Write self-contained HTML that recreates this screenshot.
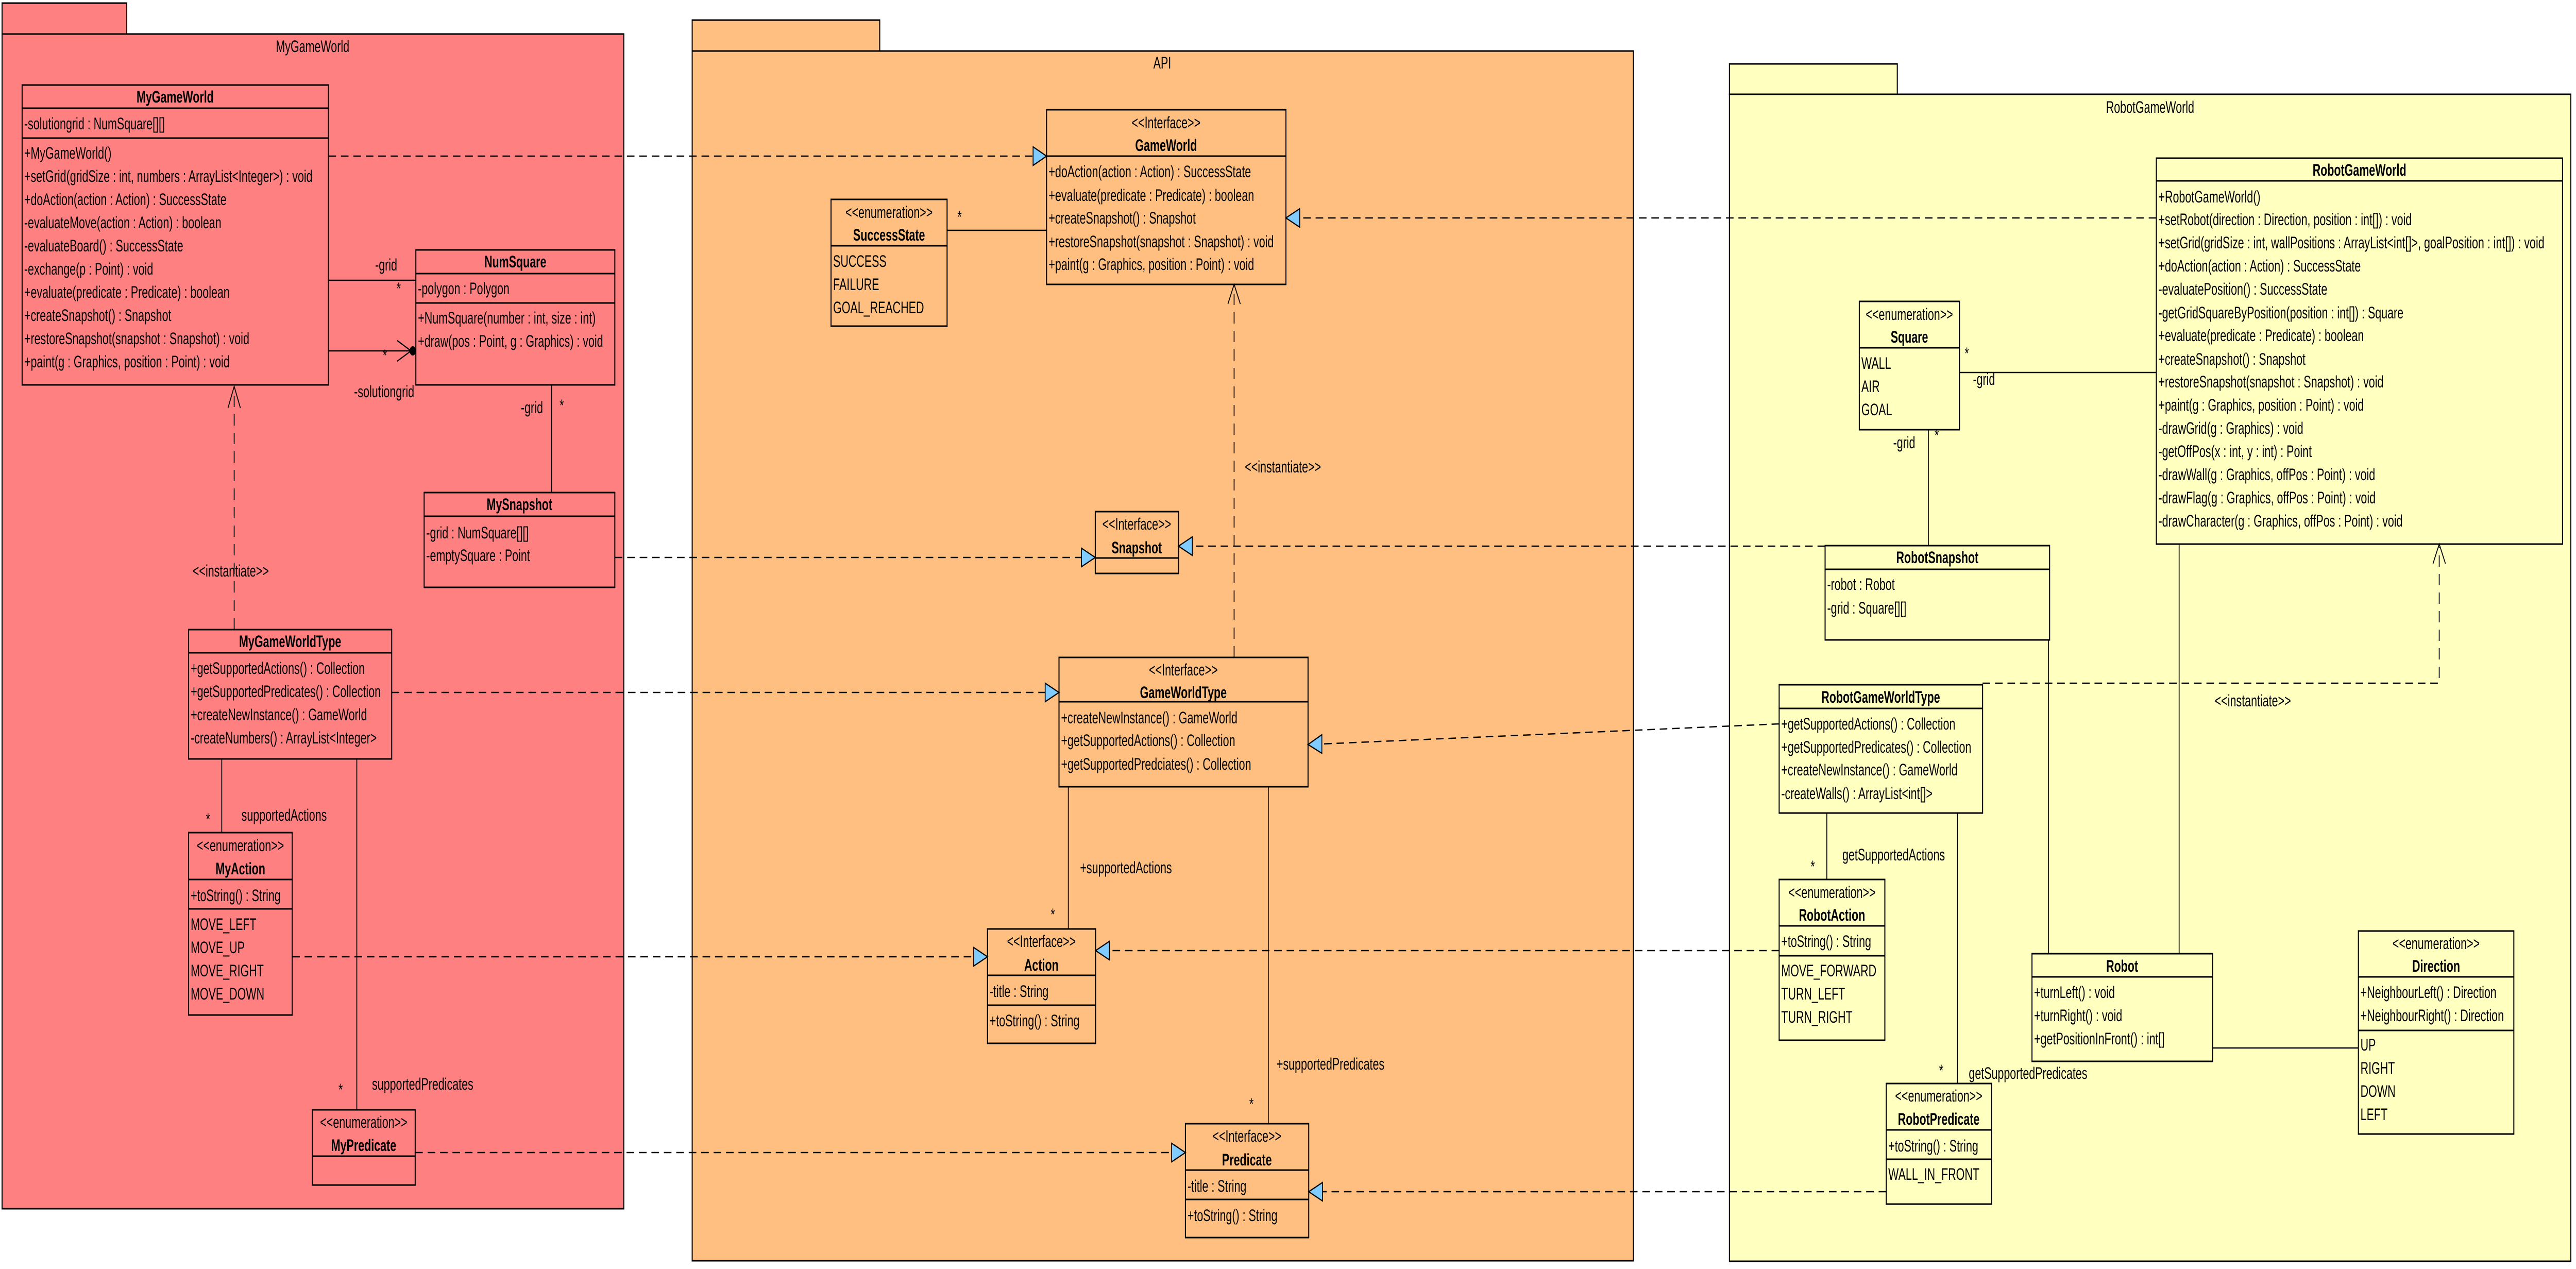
<!DOCTYPE html>
<html><head><meta charset="utf-8"><style>
html,body{margin:0;padding:0;background:#fff;overflow:hidden;width:100%;height:100%;}
svg{display:block;width:100vw;height:100vh;}
text{font-family:"Liberation Sans",Arial,sans-serif;font-size:32px;dominant-baseline:central;fill:#000;}
.b{font-weight:bold;}
.m{text-anchor:middle;}
.box{stroke:#000;stroke-width:3;}
.ln{stroke:#000;stroke-width:2.5;fill:none;}
.ds{stroke:#000;stroke-width:2.5;fill:none;stroke-dasharray:22 14;}
.tri{fill:#80CCFF;stroke:#000;stroke-width:2.5;}
</style></head><body>
<svg viewBox="0 0 7458 2463" preserveAspectRatio="none" xmlns="http://www.w3.org/2000/svg">
<rect x="6" y="6" width="361" height="60" fill="#FF8080" class="box"/>
<rect x="6" y="66" width="1800" height="2280" fill="#FF8080" class="box"/>
<text x="905" y="90" class="m">MyGameWorld</text>

<rect x="2004" y="39" width="543" height="60" fill="#FFBF80" class="box"/>
<rect x="2004" y="99" width="2725" height="2348" fill="#FFBF80" class="box"/>
<text x="3365" y="122" class="m">API</text>

<rect x="5007" y="124" width="486" height="59" fill="#FFFFC0" class="box"/>
<rect x="5007" y="183" width="2436" height="2265" fill="#FFFFC0" class="box"/>
<text x="6225" y="208" class="m">RobotGameWorld</text>

<g fill="none">
<rect x="64" y="165" width="887" height="582" class="box"/>
<line x1="64" y1="210" x2="951" y2="210" class="box"/>
<line x1="64" y1="268" x2="951" y2="268" class="box"/>
</g>
<text x="507" y="188" class="m b">MyGameWorld</text>
<text x="70" y="240">-solutiongrid : NumSquare[][]</text>
<text x="70" y="297">+MyGameWorld()</text>
<text x="70" y="342">+setGrid(gridSize : int, numbers : ArrayList&lt;Integer&gt;) : void</text>
<text x="70" y="387">+doAction(action : Action) : SuccessState</text>
<text x="70" y="432">-evaluateMove(action : Action) : boolean</text>
<text x="70" y="477">-evaluateBoard() : SuccessState</text>
<text x="70" y="522">-exchange(p : Point) : void</text>
<text x="70" y="567">+evaluate(predicate : Predicate) : boolean</text>
<text x="70" y="612">+createSnapshot() : Snapshot</text>
<text x="70" y="657">+restoreSnapshot(snapshot : Snapshot) : void</text>
<text x="70" y="702">+paint(g : Graphics, position : Point) : void</text>

<g fill="none">
<rect x="1204" y="485" width="576" height="262" class="box"/>
<line x1="1204" y1="531" x2="1780" y2="531" class="box"/>
<line x1="1204" y1="588" x2="1780" y2="588" class="box"/>
</g>
<text x="1492" y="508" class="m b">NumSquare</text>
<text x="1210" y="560">-polygon : Polygon</text>
<text x="1210" y="617">+NumSquare(number : int, size : int)</text>
<text x="1210" y="662">+draw(pos : Point, g : Graphics) : void</text>

<g fill="none">
<rect x="1228" y="956" width="552" height="184" class="box"/>
<line x1="1228" y1="1002" x2="1780" y2="1002" class="box"/>
</g>
<text x="1504" y="979" class="m b">MySnapshot</text>
<text x="1234" y="1034">-grid : NumSquare[][]</text>
<text x="1234" y="1078">-emptySquare : Point</text>

<g fill="none">
<rect x="546" y="1222" width="588" height="251" class="box"/>
<line x1="546" y1="1267" x2="1134" y2="1267" class="box"/>
</g>
<text x="840" y="1245" class="m b">MyGameWorldType</text>
<text x="552" y="1297">+getSupportedActions() : Collection</text>
<text x="552" y="1342">+getSupportedPredicates() : Collection</text>
<text x="552" y="1387">+createNewInstance() : GameWorld</text>
<text x="552" y="1432">-createNumbers() : ArrayList&lt;Integer&gt;</text>

<g fill="none">
<rect x="546" y="1616" width="300" height="354" class="box"/>
<line x1="546" y1="1707" x2="846" y2="1707" class="box"/>
<line x1="546" y1="1764" x2="846" y2="1764" class="box"/>
</g>
<text x="696" y="1641" class="m">&lt;&lt;enumeration&gt;&gt;</text>
<text x="696" y="1686" class="m b">MyAction</text>
<text x="552" y="1738">+toString() : String</text>
<text x="552" y="1794">MOVE_LEFT</text>
<text x="552" y="1839">MOVE_UP</text>
<text x="552" y="1884">MOVE_RIGHT</text>
<text x="552" y="1929">MOVE_DOWN</text>

<g fill="none">
<rect x="904" y="2154" width="298" height="146" class="box"/>
<line x1="904" y1="2244" x2="1202" y2="2244" class="box"/>
</g>
<text x="1053" y="2178" class="m">&lt;&lt;enumeration&gt;&gt;</text>
<text x="1053" y="2223" class="m b">MyPredicate</text>

<line x1="951" y1="544" x2="1204" y2="544" class="ln"/>
<text x="1086" y="514">-grid</text>
<text x="1148" y="560">*</text>
<line x1="951" y1="681" x2="1190" y2="681" class="ln"/>
<polyline points="1150,661 1190,681 1150,701" class="ln"/>
<circle cx="1195" cy="681" r="9" fill="#000"/>
<text x="1108" y="690">*</text>
<text x="1025" y="760">-solutiongrid</text>
<line x1="1597" y1="747" x2="1597" y2="956" class="ln"/>
<text x="1508" y="791">-grid</text>
<text x="1620" y="787">*</text>
<line x1="678" y1="1222" x2="678" y2="752" class="ds"/>
<polyline points="660,792 678,750 696,792" class="ln"/>
<text x="668" y="1108" class="m">&lt;&lt;instantiate&gt;&gt;</text>
<line x1="642" y1="1473" x2="642" y2="1616" class="ln"/>
<text x="596" y="1590">*</text>
<text x="699" y="1582">supportedActions</text>
<line x1="1033" y1="1473" x2="1033" y2="2154" class="ln"/>
<text x="980" y="2115">*</text>
<text x="1077" y="2104">supportedPredicates</text>

<g fill="none">
<rect x="3030" y="213" width="693" height="339" class="box"/>
<line x1="3030" y1="303" x2="3723" y2="303" class="box"/>
</g>
<text x="3376" y="238" class="m">&lt;&lt;Interface&gt;&gt;</text>
<text x="3376" y="282" class="m b">GameWorld</text>
<text x="3036" y="333">+doAction(action : Action) : SuccessState</text>
<text x="3036" y="379">+evaluate(predicate : Predicate) : boolean</text>
<text x="3036" y="423">+createSnapshot() : Snapshot</text>
<text x="3036" y="469">+restoreSnapshot(snapshot : Snapshot) : void</text>
<text x="3036" y="513">+paint(g : Graphics, position : Point) : void</text>

<g fill="none">
<rect x="2406" y="387" width="336" height="246" class="box"/>
<line x1="2406" y1="477" x2="2742" y2="477" class="box"/>
</g>
<text x="2574" y="412" class="m">&lt;&lt;enumeration&gt;&gt;</text>
<text x="2574" y="456" class="m b">SuccessState</text>
<text x="2412" y="507">SUCCESS</text>
<text x="2412" y="552">FAILURE</text>
<text x="2412" y="597">GOAL_REACHED</text>
<line x1="2742" y1="447" x2="3030" y2="447" class="ln"/>
<text x="2772" y="421">*</text>

<g fill="none">
<rect x="3171" y="993" width="241" height="120" class="box"/>
<line x1="3171" y1="1083" x2="3412" y2="1083" class="box"/>
</g>
<text x="3291" y="1017" class="m">&lt;&lt;Interface&gt;&gt;</text>
<text x="3291" y="1063" class="m b">Snapshot</text>

<g fill="none">
<rect x="3066" y="1276" width="721" height="251" class="box"/>
<line x1="3066" y1="1362" x2="3787" y2="1362" class="box"/>
</g>
<text x="3426" y="1300" class="m">&lt;&lt;Interface&gt;&gt;</text>
<text x="3426" y="1344" class="m b">GameWorldType</text>
<text x="3072" y="1393">+createNewInstance() : GameWorld</text>
<text x="3072" y="1437">+getSupportedActions() : Collection</text>
<text x="3072" y="1483">+getSupportedPredciates() : Collection</text>

<g fill="none">
<rect x="2859" y="1803" width="313" height="222" class="box"/>
<line x1="2859" y1="1893" x2="3172" y2="1893" class="box"/>
<line x1="2859" y1="1951" x2="3172" y2="1951" class="box"/>
</g>
<text x="3015" y="1827" class="m">&lt;&lt;Interface&gt;&gt;</text>
<text x="3015" y="1873" class="m b">Action</text>
<text x="2865" y="1924">-title : String</text>
<text x="2865" y="1981">+toString() : String</text>

<g fill="none">
<rect x="3432" y="2181" width="357" height="221" class="box"/>
<line x1="3432" y1="2271" x2="3789" y2="2271" class="box"/>
<line x1="3432" y1="2328" x2="3789" y2="2328" class="box"/>
</g>
<text x="3610" y="2205" class="m">&lt;&lt;Interface&gt;&gt;</text>
<text x="3610" y="2251" class="m b">Predicate</text>
<text x="3438" y="2302">-title : String</text>
<text x="3438" y="2359">+toString() : String</text>

<line x1="3573" y1="1276" x2="3573" y2="557" class="ds"/>
<polyline points="3555,590 3573,552 3591,590" class="ln"/>
<text x="3604" y="906">&lt;&lt;instantiate&gt;&gt;</text>
<line x1="3093" y1="1527" x2="3093" y2="1803" class="ln"/>
<text x="3127" y="1684">+supportedActions</text>
<text x="3042" y="1775">*</text>
<line x1="3672" y1="1527" x2="3672" y2="2181" class="ln"/>
<text x="3696" y="2065">+supportedPredicates</text>
<text x="3617" y="2143">*</text>

<g fill="none">
<rect x="6243" y="307" width="1176" height="749" class="box"/>
<line x1="6243" y1="351" x2="7419" y2="351" class="box"/>
</g>
<text x="6831" y="330" class="m b">RobotGameWorld</text>
<text x="6249" y="382">+RobotGameWorld()</text>
<text x="6249" y="426">+setRobot(direction : Direction, position : int[]) : void</text>
<text x="6249" y="471">+setGrid(gridSize : int, wallPositions : ArrayList&lt;int[]&gt;, goalPosition : int[]) : void</text>
<text x="6249" y="516">+doAction(action : Action) : SuccessState</text>
<text x="6249" y="561">-evaluatePosition() : SuccessState</text>
<text x="6249" y="607">-getGridSquareByPosition(position : int[]) : Square</text>
<text x="6249" y="651">+evaluate(predicate : Predicate) : boolean</text>
<text x="6249" y="697">+createSnapshot() : Snapshot</text>
<text x="6249" y="741">+restoreSnapshot(snapshot : Snapshot) : void</text>
<text x="6249" y="786">+paint(g : Graphics, position : Point) : void</text>
<text x="6249" y="831">-drawGrid(g : Graphics) : void</text>
<text x="6249" y="876">-getOffPos(x : int, y : int) : Point</text>
<text x="6249" y="921">-drawWall(g : Graphics, offPos : Point) : void</text>
<text x="6249" y="966">-drawFlag(g : Graphics, offPos : Point) : void</text>
<text x="6249" y="1011">-drawCharacter(g : Graphics, offPos : Point) : void</text>

<g fill="none">
<rect x="5383" y="585" width="290" height="249" class="box"/>
<line x1="5383" y1="675" x2="5673" y2="675" class="box"/>
</g>
<text x="5528" y="610" class="m">&lt;&lt;enumeration&gt;&gt;</text>
<text x="5528" y="654" class="m b">Square</text>
<text x="5389" y="705">WALL</text>
<text x="5389" y="750">AIR</text>
<text x="5389" y="795">GOAL</text>

<g fill="none">
<rect x="5284" y="1059" width="650" height="183" class="box"/>
<line x1="5284" y1="1105" x2="5934" y2="1105" class="box"/>
</g>
<text x="5609" y="1082" class="m b">RobotSnapshot</text>
<text x="5290" y="1134">-robot : Robot</text>
<text x="5290" y="1180">-grid : Square[][]</text>

<g fill="none">
<rect x="5151" y="1329" width="589" height="249" class="box"/>
<line x1="5151" y1="1375" x2="5740" y2="1375" class="box"/>
</g>
<text x="5445" y="1353" class="m b">RobotGameWorldType</text>
<text x="5157" y="1405">+getSupportedActions() : Collection</text>
<text x="5157" y="1450">+getSupportedPredicates() : Collection</text>
<text x="5157" y="1494">+createNewInstance() : GameWorld</text>
<text x="5157" y="1540">-createWalls() : ArrayList&lt;int[]&gt;</text>

<g fill="none">
<rect x="5151" y="1707" width="306" height="312" class="box"/>
<line x1="5151" y1="1797" x2="5457" y2="1797" class="box"/>
<line x1="5151" y1="1855" x2="5457" y2="1855" class="box"/>
</g>
<text x="5304" y="1732" class="m">&lt;&lt;enumeration&gt;&gt;</text>
<text x="5304" y="1776" class="m b">RobotAction</text>
<text x="5157" y="1827">+toString() : String</text>
<text x="5157" y="1884">MOVE_FORWARD</text>
<text x="5157" y="1929">TURN_LEFT</text>
<text x="5157" y="1974">TURN_RIGHT</text>

<g fill="none">
<rect x="5461" y="2103" width="305" height="234" class="box"/>
<line x1="5461" y1="2193" x2="5766" y2="2193" class="box"/>
<line x1="5461" y1="2250" x2="5766" y2="2250" class="box"/>
</g>
<text x="5613" y="2127" class="m">&lt;&lt;enumeration&gt;&gt;</text>
<text x="5613" y="2172" class="m b">RobotPredicate</text>
<text x="5467" y="2224">+toString() : String</text>
<text x="5467" y="2279">WALL_IN_FRONT</text>

<g fill="none">
<rect x="5883" y="1851" width="523" height="209" class="box"/>
<line x1="5883" y1="1896" x2="6406" y2="1896" class="box"/>
</g>
<text x="6144" y="1875" class="m b">Robot</text>
<text x="5889" y="1926">+turnLeft() : void</text>
<text x="5889" y="1971">+turnRight() : void</text>
<text x="5889" y="2016">+getPositionInFront() : int[]</text>

<g fill="none">
<rect x="6828" y="1807" width="450" height="394" class="box"/>
<line x1="6828" y1="1896" x2="7278" y2="1896" class="box"/>
<line x1="6828" y1="2000" x2="7278" y2="2000" class="box"/>
</g>
<text x="7053" y="1831" class="m">&lt;&lt;enumeration&gt;&gt;</text>
<text x="7053" y="1875" class="m b">Direction</text>
<text x="6834" y="1926">+NeighbourLeft() : Direction</text>
<text x="6834" y="1971">+NeighbourRight() : Direction</text>
<text x="6834" y="2028">UP</text>
<text x="6834" y="2073">RIGHT</text>
<text x="6834" y="2118">DOWN</text>
<text x="6834" y="2163">LEFT</text>

<line x1="5673" y1="723" x2="6243" y2="723" class="ln"/>
<text x="5688" y="686">*</text>
<text x="5712" y="736">-grid</text>
<line x1="5583" y1="834" x2="5583" y2="1059" class="ln"/>
<text x="5481" y="859">-grid</text>
<text x="5601" y="845">*</text>
<line x1="5931" y1="1242" x2="5931" y2="1851" class="ln"/>
<line x1="6309" y1="1056" x2="6309" y2="1851" class="ln"/>
<polyline points="5740,1326 7062,1326 7062,1061" class="ds"/>
<polyline points="7044,1094 7062,1056 7080,1094" class="ln"/>
<text x="6412" y="1360">&lt;&lt;instantiate&gt;&gt;</text>
<line x1="5289" y1="1578" x2="5289" y2="1707" class="ln"/>
<text x="5242" y="1682">*</text>
<text x="5334" y="1659">getSupportedActions</text>
<line x1="5667" y1="1578" x2="5667" y2="2103" class="ln"/>
<text x="5614" y="2078">*</text>
<text x="5700" y="2083">getSupportedPredicates</text>
<line x1="6406" y1="2034" x2="6828" y2="2034" class="ln"/>

<line x1="951" y1="303" x2="2991" y2="303" class="ds"/>
<polygon points="2991,285 3030,303 2991,321" class="tri"/>
<line x1="1780" y1="1082" x2="3131" y2="1082" class="ds"/>
<polygon points="3131,1064 3171,1082 3131,1100" class="tri"/>
<line x1="1134" y1="1344" x2="3026" y2="1344" class="ds"/>
<polygon points="3026,1326 3066,1344 3026,1362" class="tri"/>
<line x1="846" y1="1857" x2="2819" y2="1857" class="ds"/>
<polygon points="2819,1839 2859,1857 2819,1875" class="tri"/>
<line x1="1202" y1="2237" x2="3392" y2="2237" class="ds"/>
<polygon points="3392,2219 3432,2237 3392,2255" class="tri"/>

<line x1="6243" y1="423" x2="3763" y2="423" class="ds"/>
<polygon points="3763,405 3723,423 3763,441" class="tri"/>
<line x1="5284" y1="1060" x2="3452" y2="1060" class="ds"/>
<polygon points="3452,1042 3412,1060 3452,1078" class="tri"/>
<line x1="5151" y1="1405" x2="3827" y2="1444" class="ds"/>
<polygon points="3827,1426 3787,1445 3827,1462" class="tri"/>
<line x1="5151" y1="1845" x2="3212" y2="1845" class="ds"/>
<polygon points="3212,1827 3172,1845 3212,1863" class="tri"/>
<line x1="5461" y1="2313" x2="3829" y2="2313" class="ds"/>
<polygon points="3829,2295 3789,2313 3829,2331" class="tri"/>
</svg>
</body></html>
